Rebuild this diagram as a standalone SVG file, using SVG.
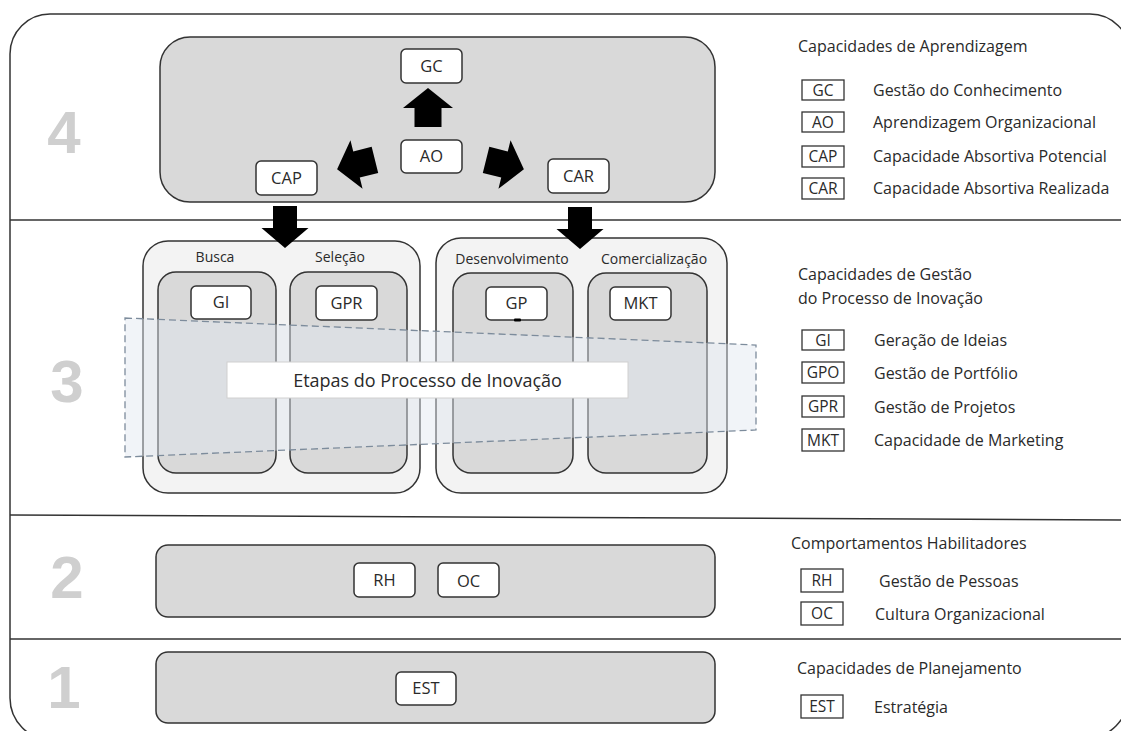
<svg xmlns="http://www.w3.org/2000/svg" width="1121" height="731" viewBox="0 0 1121 731">
<style>
  text { font-family: "Open Sans", "Liberation Sans", sans-serif; fill: #2a2a2a; }
  .frame { fill: #ffffff; stroke: #333333; stroke-width: 1.5; }
  .div { stroke: #333333; stroke-width: 1.5; fill: none; }
  .layer { fill: #d9d9d9; stroke: #333333; stroke-width: 1.5; }
  .cont { fill: #f3f3f3; stroke: #333333; stroke-width: 1.5; }
  .col { fill: #d9d9d9; stroke: #333333; stroke-width: 1.5; }
  .node rect { fill: #ffffff; stroke: #333333; stroke-width: 1.5; }
  .node text { font-size: 16.5px; text-anchor: middle; }
  .num { font-family: "Liberation Sans", Arial, sans-serif; font-weight: bold; font-size: 60px; fill: #cfcfcf; text-anchor: middle; }
  .stage { font-size: 14px; text-anchor: middle; }
  .lh { font-size: 16px; }
  .lt { font-size: 16px; }
  .lbox { fill: #ffffff; stroke: #333333; stroke-width: 1.3; }
  .lk { font-size: 15.5px; text-anchor: middle; }
  .arrow { fill: #000000; }
</style>
<defs>
  <path id="blk" d="M0,-20 L25,0 L13.5,0 L13.5,19 L-13.5,19 L-13.5,0 L-25,0 Z"/>
  <path id="blkd" d="M0,20 L23.5,0 L12,0 L12,-22 L-12,-22 L-12,0 L-23.5,0 Z"/>
</defs>

<!-- outer frame -->
<path class="frame" d="M10,54 A40,40 0 0 1 50,14 L1090,14 A40,40 0 0 1 1130,54 L1130,692 A48,48 0 0 1 1082,740 L52,740 A42,42 0 0 1 10,698 Z"/>
<line class="div" x1="10" y1="220" x2="1130" y2="220"/>
<line class="div" x1="10" y1="515" x2="1130" y2="520"/>
<line class="div" x1="10" y1="639" x2="1130" y2="639"/>

<!-- layer numbers -->
<text class="num" x="64" y="153">4</text>
<text class="num" x="67" y="402">3</text>
<text class="num" x="67" y="598">2</text>
<text class="num" x="64" y="708">1</text>

<!-- layer 4 -->
<g id="layer4">
  <rect class="layer" x="160" y="37" width="555" height="165" rx="30"/>
</g>
<g id="GC" class="node"><rect x="401" y="49" width="61" height="34" rx="5"/><text x="431.5" y="72">GC</text></g>
<g id="AO" class="node"><rect x="401" y="140" width="61" height="33" rx="5"/><text x="431.5" y="162">AO</text></g>
<g id="CAP" class="node"><rect x="256" y="161" width="61" height="34" rx="5"/><text x="286.5" y="184">CAP</text></g>
<g id="CAR" class="node"><rect x="548" y="159" width="61" height="34" rx="5"/><text x="578.5" y="182">CAR</text></g>

<!-- layer 3 -->
<g id="stagesLeft">
  <rect class="cont" x="143" y="241" width="277" height="252" rx="25"/>
  <rect class="col" x="158" y="272" width="118" height="201" rx="18"/>
  <rect class="col" x="290" y="272" width="117" height="201" rx="18"/>
  <text class="stage" x="215" y="262">Busca</text>
  <text class="stage" x="340" y="262">Seleção</text>
</g>
<g id="stagesRight">
  <rect class="cont" x="436" y="238" width="291" height="255" rx="25"/>
  <rect class="col" x="453" y="273" width="120" height="200" rx="18"/>
  <rect class="col" x="588" y="273" width="119" height="200" rx="18"/>
  <text class="stage" x="512" y="264">Desenvolvimento</text>
  <text class="stage" x="654" y="264">Comercialização</text>
</g>
<g id="GI" class="node"><rect x="191" y="286" width="60" height="33" rx="5"/><text x="221" y="308">GI</text></g>
<g id="GPR" class="node"><rect x="316" y="286" width="61" height="34" rx="5"/><text x="346.5" y="309">GPR</text></g>
<g id="GP" class="node"><rect x="486" y="287" width="61" height="33" rx="5"/><text x="516.5" y="309">GP</text><rect x="514" y="318.5" width="7" height="3" rx="1" style="fill:#000;stroke:none"/></g>
<g id="MKT" class="node"><rect x="610" y="287" width="61" height="33" rx="5"/><text x="640.5" y="309">MKT</text></g>

<g id="processBand">
  <polygon points="125,318 756,345 756,430 125,457" fill="#dfe7f0" fill-opacity="0.45" stroke="#7d8c9c" stroke-width="1.3" stroke-dasharray="7,4"/>
  <rect x="227" y="362" width="401" height="36" fill="#ffffff" stroke="#d0d0d0" stroke-width="1"/>
  <text x="427.5" y="387" style="font-size:18px;text-anchor:middle">Etapas do Processo de Inovação</text>
</g>

<!-- layer 2 -->
<g id="layer2"><rect class="layer" x="156" y="545" width="559" height="72" rx="12"/></g>
<g id="RH" class="node"><rect x="354" y="563" width="61" height="34" rx="5"/><text x="384.5" y="586">RH</text></g>
<g id="OC" class="node"><rect x="438" y="563" width="61" height="34" rx="5"/><text x="468.5" y="587">OC</text></g>

<!-- layer 1 -->
<g id="layer1"><rect class="layer" x="156" y="652" width="559" height="71" rx="12"/></g>
<g id="EST" class="node"><rect x="396" y="672" width="60" height="33" rx="5"/><text x="426" y="694">EST</text></g>

<!-- connectors (block arrows) -->
<g id="connectors">
  <use href="#blk" class="arrow" transform="translate(428,108)"/>
  <use href="#blk" class="arrow" transform="translate(504.5,164.5) rotate(104)"/>
  <use href="#blk" class="arrow" transform="translate(356.5,164.5) rotate(-104)"/>
  <use href="#blkd" class="arrow" transform="translate(285,228)"/>
  <use href="#blkd" class="arrow" transform="translate(580,229)"/>
</g>

<!-- legends -->
<g id="legend4">
  <text class="lh" x="798" y="52">Capacidades de Aprendizagem</text>
  <rect class="lbox" x="802" y="80" width="42" height="20"/><text class="lk" x="823" y="95.5">GC</text>
  <text class="lt" x="873" y="96">Gestão do Conhecimento</text>
  <rect class="lbox" x="802" y="112" width="42" height="20"/><text class="lk" x="823" y="127.5">AO</text>
  <text class="lt" x="873" y="128">Aprendizagem Organizacional</text>
  <rect class="lbox" x="802" y="146" width="42" height="21"/><text class="lk" x="823" y="162">CAP</text>
  <text class="lt" x="873" y="162">Capacidade Absortiva Potencial</text>
  <rect class="lbox" x="802" y="178" width="42" height="21"/><text class="lk" x="823" y="194">CAR</text>
  <text class="lt" x="873" y="194">Capacidade Absortiva Realizada</text>
</g>
<g id="legend3">
  <text class="lh" x="798" y="280">Capacidades de Gestão</text>
  <text class="lh" x="798" y="304">do Processo de Inovação</text>
  <rect class="lbox" x="802" y="330" width="42" height="20"/><text class="lk" x="823" y="345.5">GI</text>
  <text class="lt" x="874" y="346">Geração de Ideias</text>
  <rect class="lbox" x="802" y="362" width="42" height="21"/><text class="lk" x="823" y="378">GPO</text>
  <text class="lt" x="874" y="379">Gestão de Portfólio</text>
  <rect class="lbox" x="802" y="396" width="42" height="21"/><text class="lk" x="823" y="412">GPR</text>
  <text class="lt" x="874" y="413">Gestão de Projetos</text>
  <rect class="lbox" x="802" y="429" width="42" height="22"/><text class="lk" x="823" y="445.5">MKT</text>
  <text class="lt" x="874" y="446">Capacidade de Marketing</text>
</g>
<g id="legend2">
  <text class="lh" x="791" y="549">Comportamentos Habilitadores</text>
  <rect class="lbox" x="801" y="569" width="42" height="23"/><text class="lk" x="822" y="586">RH</text>
  <text class="lt" x="879" y="587">Gestão de Pessoas</text>
  <rect class="lbox" x="801" y="602" width="42" height="23"/><text class="lk" x="822" y="619">OC</text>
  <text class="lt" x="875" y="620">Cultura Organizacional</text>
</g>
<g id="legend1">
  <text class="lh" x="797" y="674">Capacidades de Planejamento</text>
  <rect class="lbox" x="801" y="695" width="42" height="23"/><text class="lk" x="822" y="712">EST</text>
  <text class="lt" x="874" y="713">Estratégia</text>
</g>
</svg>
